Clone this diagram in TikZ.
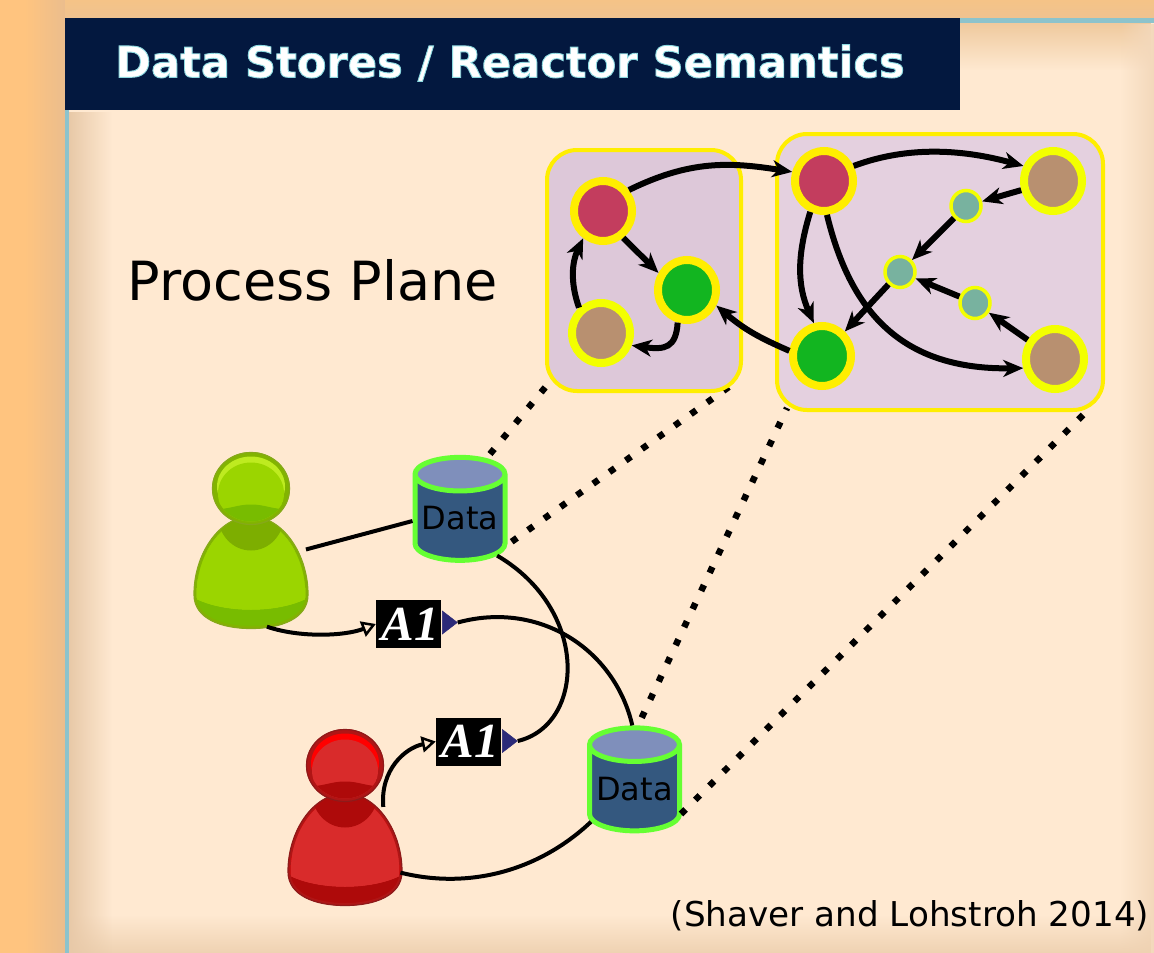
\documentclass[tikz,border=0pt]{standalone}
\usepackage{fontspec}
\setmainfont{DejaVu Sans}
\newfontfamily\aonefont{Liberation Serif}
\usetikzlibrary{shapes.geometric,arrows.meta,calc,fadings}
\definecolor{panelc}{HTML}{FFE9D1}
\definecolor{outerl}{HTML}{FFC47F}
\definecolor{outerm}{HTML}{EBBD8D}
\definecolor{outert}{HTML}{F5C387}
\definecolor{outerb}{HTML}{EFC290}
\definecolor{fadel}{HTML}{E8C9A8}
\definecolor{fadet}{HTML}{EFCA9E}
\definecolor{fadeb}{HTML}{EFD2B2}
\definecolor{fader}{HTML}{F3D8BB}
\definecolor{tealb}{HTML}{8CC3CC}
\definecolor{navy}{HTML}{03183F}
\definecolor{ringy}{HTML}{FFEE00}
\definecolor{ringl}{HTML}{F3FF00}
\definecolor{redc}{HTML}{C33D5E}
\definecolor{greenc}{HTML}{12B520}
\definecolor{tanc}{HTML}{B89070}
\definecolor{smallc}{HTML}{78B29F}
\definecolor{boxl}{HTML}{DDC8D9}
\definecolor{boxr}{HTML}{E4D0DF}
\definecolor{cylb}{HTML}{34587F}
\definecolor{cyle}{HTML}{7F8FBB}
\definecolor{cyls}{HTML}{66FF33}
\definecolor{portc}{HTML}{2C2A78}
\definecolor{gedge}{HTML}{86A81A}
\definecolor{grim}{HTML}{82B400}
\definecolor{gmain}{HTML}{9BD500}
\definecolor{gdark}{HTML}{78BC00}
\definecolor{gshad}{HTML}{7DAE00}
\definecolor{ghigh}{HTML}{BEEB20}
\definecolor{redge}{HTML}{8E1A1A}
\definecolor{rrim}{HTML}{B01515}
\definecolor{rmain}{HTML}{D92B2B}
\definecolor{rdark}{HTML}{AE0A0A}
\definecolor{rshad}{HTML}{AE0A0A}
\definecolor{rhigh}{HTML}{FF0000}
\tikzfading[name=fromleft,left color=transparent!0,right color=transparent!100]
\tikzfading[name=fromright,right color=transparent!0,left color=transparent!100]
\tikzfading[name=fromtop,top color=transparent!0,bottom color=transparent!100]
\tikzfading[name=frombottom,bottom color=transparent!0,top color=transparent!100]
\tikzset{
  groupbox/.style={draw=ringy,line width=4,rounded corners=30,inner sep=0,outer sep=0},
  bignode/.style={ellipse,line width=8,minimum width=58,minimum height=60,inner sep=0},
  smallnode/.style={ellipse,line width=3.5,fill=smallc,draw=ringl,minimum width=30,minimum height=31,inner sep=0},
  rednode/.style={bignode,fill=redc,draw=ringy},
  greennode/.style={bignode,fill=greenc,draw=ringy},
  tannode/.style={bignode,fill=tanc,draw=ringl},
  flow/.style={line width=6,-{Stealth[length=20,width=17,inset=6]}},
  cloud/.style={line width=6.5,dash pattern=on 6.5 off 13.5},
  link/.style={line width=4},
  inlink/.style={line width=4,-{Triangle[open,length=14,width=16,line width=2.5,fill=panelc]}},
  datacyl/.style={cylinder,shape border rotate=90,draw=cyls,line width=5,
    cylinder uses custom fill,cylinder body fill=cylb,cylinder end fill=cyle,
    aspect=0.44,minimum width=90,minimum height=103,inner sep=0,font=\fontsize{32}{36}\selectfont},
  actor/.style={fill=black,text=white,minimum width=65,minimum height=48,inner sep=0,
    font=\aonefont\bfseries\itshape\fontsize{49}{50}\selectfont},
  port/.style={isosceles triangle,fill=portc,draw=portc,line width=.5,isosceles triangle apex angle=75,minimum height=15,minimum width=14,inner sep=0,shape border rotate=0},
  personbody/.style={ellipse,minimum width=122,minimum height=111,inner sep=0},
}
\newcommand{\bodyshape}{(0,28) .. controls (-32,28) and (-57,66) .. (-57,106) .. controls (-57,130) and (-30,140) .. (0,140) .. controls (30,140) and (57,130) .. (57,106) .. controls (57,66) and (32,28) .. (0,28) -- cycle}
\newcommand{\personicon}[8]{% x y edge rim main dark shadow high
 \begin{scope}[shift={(#1,#2)}]
  \begin{scope}
   \clip \bodyshape;
   \fill[#6] (-60,20) rectangle (60,145);
   \fill[#5] (-60,20) -- (60,20) -- (60,108) .. controls (30,126) and (-30,126) .. (-60,108) -- cycle;
   \draw[#4,line width=5] (-60,145) -- (-60,20) -- (60,20) -- (60,145);
   \draw[#8,line width=5] \bodyshape;
   \fill[#5] (-53.5,62) rectangle (53.5,108);
   \fill[#6] (-60,108) .. controls (-30,126) and (30,126) .. (60,108) -- (60,145) -- (-60,145) -- cycle;
   \draw[#4,line width=5] \bodyshape;
   \fill[#7] (0,27) ellipse [x radius=33,y radius=35];
  \end{scope}
  \draw[#3,line width=1.2] \bodyshape;
  \fill[#4] (0,0) ellipse [x radius=39,y radius=36.5];
  \draw[#3,line width=1.2] (0,0) ellipse [x radius=38.5,y radius=36];
  \begin{scope}
   \clip (0,0) ellipse [x radius=35,y radius=33];
   \fill[#4] (-40,-40) rectangle (40,40);
   \fill[#8] (0,-2) ellipse [x radius=34,y radius=30];
   \fill[#5] (0,5) ellipse [x radius=33,y radius=31];
   \fill[#6] (-40,21) .. controls (-20,21) and (-15,16) .. (0,16) .. controls (15,16) and (20,21) .. (40,21) -- (40,40) -- (-40,40) -- cycle;
  \end{scope}
 \end{scope}}
\begin{document}
\begin{tikzpicture}[x=1pt,y=-1pt]
\useasboundingbox (0,0) rectangle (1154,953);
% page background
\fill[outerl] (0,0) rectangle (25,953);
\fill[left color=outerl,right color=outerm] (25,0) rectangle (65,953);
\fill[top color=outert,bottom color=outerb] (65,0) rectangle (1154,18);
\fill[panelc] (65,18) rectangle (1154,953);
% panel edge shading
\fill[fadet,path fading=fromtop] (69,23) rectangle (1154,70);
\fill[fader,path fading=fromright] (1120,23) rectangle (1154,953);
\fill[fadeb,path fading=frombottom] (69,915) rectangle (1154,953);
\fill[fadel,path fading=fromleft] (69,110) rectangle (112,953);
% panel border
\fill[tealb] (65,110) rectangle (69,953);
\fill[tealb] (960,18) rectangle (1154,23);
% title
\node[fill=navy,minimum width=895,minimum height=92,inner sep=0,outer sep=0] (title) at (512.5,64) {};
\node[text=white,font=\bfseries\fontsize{43.2}{48}\selectfont] (titletext) at (510,63) {\special{pdf:code 2 Tr 0.9 w 0.55 0.85 0.88 RG}Data Stores / Reactor Semantics\special{pdf:code 0 Tr}};
\node[font=\fontsize{54}{60}\selectfont] (plane) at (313,280) {Process Plane};
\node[font=\fontsize{34.2}{40}\selectfont] (cite) at (910,916) {(Shaver and Lohstroh 2014)};

% data stores
\node[datacyl] (data1) at (460,518.5) {Data};
\node[datacyl] (data2) at (634.5,789) {Data};

% dotted correspondences
\coordinate (d1a) at (548,384); \coordinate (d1b) at (490,454);
\coordinate (d2a) at (733,384); \coordinate (d2b) at (511.7,541.7);
\coordinate (d3a) at (787,408); \coordinate (d3b) at (641.7,717.7);
\coordinate (d4a) at (1087,411); \coordinate (d4b) at (681,814);
\draw[cloud] (d1b) -- (d1a);
\draw[cloud] (d2b) -- (d2a);
\draw[cloud] (d3b) -- (d3a);
\draw[cloud] (d4b) -- (d4a);

% group boxes
\node[groupbox,fill=boxl,minimum width=194,minimum height=241] (lbox) at (644,270.5) {};
\node[groupbox,fill=boxr,minimum width=326,minimum height=276] (rbox) at (940,272) {};

% process nodes
\node[rednode] (lr) at (603,211) {};
\node[greennode] (lg) at (687,290) {};
\node[tannode] (lt) at (601,333) {};
\node[rednode] (rr) at (824,181) {};
\node[tannode] (rt) at (1053,181) {};
\node[greennode] (rg) at (822,356) {};
\node[tannode] (rb) at (1055,359) {};
\node[smallnode] (s1) at (966,206) {};
\node[smallnode] (s2) at (900,272) {};
\node[smallnode] (s3) at (975,303) {};

% process edges
\draw[flow] (lr.39) .. controls (690,160) and (730,162) .. (rr.164);
\draw[flow] (lr.-53) -- (lg.149);
\draw[flow] (lg.-106) .. controls (676,348) and (665,350) .. (lt.-22);
\draw[flow] (lt.131) .. controls (570,282) and (572,262) .. (lr.234);
\draw[flow] (rg.171) .. controls (760,338) and (745,330) .. (lg.-28);
\draw[flow] (rr.27) .. controls (910,145) and (965,150) .. (rt.153);
\draw[flow] (rt) -- (s1);
\draw[flow] (s1) -- (s2);
\draw[flow] (s2) -- (rg);
\draw[flow] (rb) -- (s3);
\draw[flow] (s3) -- (s2);
\draw[flow] (rr.-114) .. controls (797,255) and (797,285) .. (rg.104);
\draw[flow] (rr.-85) .. controls (850,310) and (900,370) .. (rb.-164);

% people
\personicon{251}{488.5}{gedge}{grim}{gmain}{gdark}{gshad}{ghigh}
\personicon{345}{765.5}{redge}{rrim}{rmain}{rdark}{rshad}{rhigh}
\node[personbody] (p1) at (250.5,573) {};
\node[personbody] (p2) at (344.5,850) {};

% actors
\node[actor] (a1) at (408.5,624) {\kern3pt\raisebox{-1pt}{A1}};
\node[actor] (a2) at (468.5,741.5) {\kern3pt\raisebox{-1pt}{A1}};
\node[port] (a1p) at (448,622.5) {};
\node[port] (a2p) at (508,741) {};

% links
\draw[link] (p1.23) -- (data1.-177);
\draw[link] (data1.-45) .. controls (590,610) and (585,725) .. (a2p.apex);
\draw[link] (data2.92) .. controls (615,650) and (540,600) .. (a1p.apex);
\draw[inlink] (p1.-73) .. controls (300,638) and (345,636) .. (a1.west);
\draw[inlink] (p2.48) .. controls (380,770) and (405,748) .. (a2.west);
\draw[link] (p2.-22) .. controls (470,890) and (540,870) .. (data2.-143);
\end{tikzpicture}
\end{document}
